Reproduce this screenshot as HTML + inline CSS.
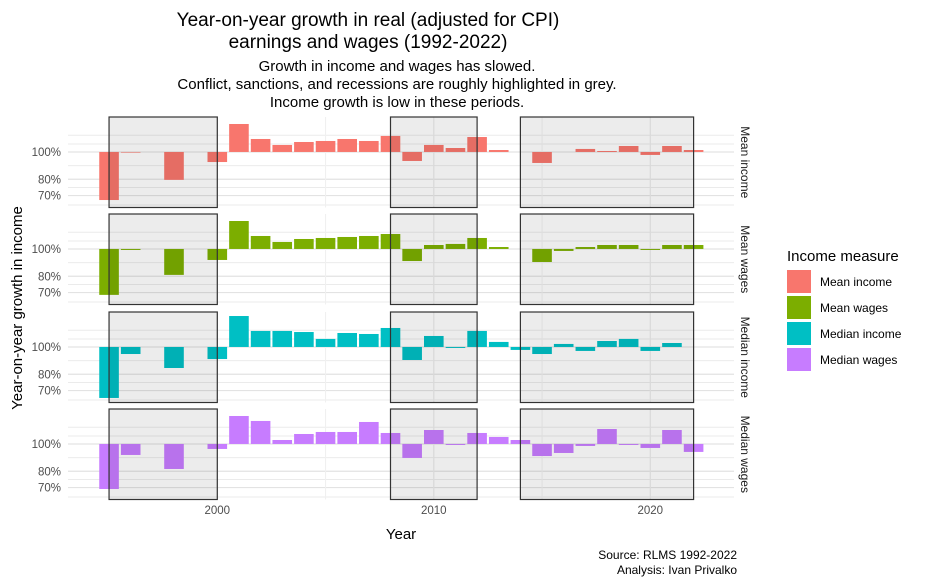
<!DOCTYPE html>
<html><head><meta charset="utf-8"><style>
body{margin:0;background:#fff;}
svg{display:block;font-family:"Liberation Sans",sans-serif;}
</style></head><body>
<svg id="chart" width="925" height="586" viewBox="0 0 925 586">
<text x="368" y="26" font-size="19" text-anchor="middle" fill="#000">Year-on-year growth in real (adjusted for CPI)</text>
<text x="368" y="48" font-size="19" text-anchor="middle" fill="#000">earnings and wages (1992-2022)</text>
<text x="397" y="71" font-size="15" text-anchor="middle">Growth in income and wages has slowed.</text>
<text x="397" y="89" font-size="15" text-anchor="middle">Conflict, sanctions, and recessions are roughly highlighted in grey.</text>
<text x="397" y="107" font-size="15" text-anchor="middle">Income growth is low in these periods.</text>
<g id="panels"></g>
<text x="401" y="539" font-size="15" text-anchor="middle">Year</text>
<text transform="translate(22,308) rotate(-90)" font-size="15" text-anchor="middle">Year-on-year growth in income</text>
<text x="787" y="261" font-size="15">Income measure</text>
<g id="legend"></g>
<text x="737" y="559" font-size="12" text-anchor="end">Source: RLMS 1992-2022</text>
<text x="737" y="574" font-size="12" text-anchor="end">Analysis: Ivan Privalko</text>
</svg>
<script>
const years = [1995,1996,1998,2000,2001,2002,2003,2004,2005,2006,2007,2008,2009,2010,2011,2012,2013,2014,2015,2016,2017,2018,2019,2020,2021,2022];
const seriesNames = ["Mean income","Mean wages","Median income","Median wages"];
const meanIncome = [67.5,99.5,79.6,92.1,125.7,111.2,105.9,108.5,109.4,111.2,109.4,114,92.9,105.9,103.3,113,101.6,100,91.4,100,102.5,100.8,105,97.6,105,101.6];
const meanWages = [68.7,99.2,80.9,91.4,125.7,111.2,105.9,108.5,109.4,110.3,111.2,113,90.6,103.3,104.2,109.4,101.6,100,89.9,98.4,101.6,103.3,103.3,99.2,103.3,103.3];
const medianIncome = [65.9,94.4,84.2,90.6,128.8,114,114,113,106.8,112.1,111.2,116.8,89.9,109.4,99.2,114,104.2,97.6,94.4,102.5,96.8,105,106.8,96.8,103.3,100];
const medianWages = [69.2,91.4,81.5,96,125.7,120.7,103.3,108.5,110.3,110.3,119.7,109.4,89.2,112.1,99.2,109.4,105.9,103.3,90.6,92.9,98.4,113,99.2,96.8,112.1,93.7];
const periodStarts = [1995,2008,2014];
const periodEnds = [2000,2012,2022];
const yTicks = [70,80,100];
const yTickLabels = ["70%","80%","100%"];
const yMinor = [64.8,74.8,89.4,106.7,114.6];
const xTicks = [2000,2010,2020];
const xMinor = [2005,2015];

const allSeries = [meanIncome,meanWages,medianIncome,medianWages];
const colors = ["#F8766D","#7CAE00","#00BFC4","#C77CFF"];
const NS = "http://www.w3.org/2000/svg";
const px0 = 68, px1 = 734;
const panelTop = [117,214,312,409], panelH = 90.5;
const x = yr => 217.3 + (yr - 2000) * 21.65;
const yMax = 133.1, yMin = 63.5;
function y(v, p){ const t = (Math.log(yMax) - Math.log(v)) / (Math.log(yMax) - Math.log(yMin)); return panelTop[p] + t * panelH; }
function mk(tag, attrs, parent){ const e = document.createElementNS(NS, tag); for (const k in attrs) e.setAttribute(k, attrs[k]); parent.appendChild(e); return e; }
const root = document.getElementById("panels");
for (let p = 0; p < 4; p++){
  const g = mk("g", {}, root);
  
  
  yMinor.forEach(v => mk("line", {x1:px0, x2:px1, y1:y(v,p), y2:y(v,p), stroke:"#ebebeb", "stroke-width":1}, g));
  yTicks.forEach(v => mk("line", {x1:px0, x2:px1, y1:y(v,p), y2:y(v,p), stroke:"#e3e3e3", "stroke-width":1.2}, g));
  xMinor.forEach(v => mk("line", {x1:x(v), x2:x(v), y1:panelTop[p], y2:panelTop[p]+panelH, stroke:"#f0f0f0", "stroke-width":1}, g));
  xTicks.forEach(v => mk("line", {x1:x(v), x2:x(v), y1:panelTop[p], y2:panelTop[p]+panelH, stroke:"#ebebeb", "stroke-width":1.2}, g));
  yTicks.forEach((v, i) => {
    const t = mk("text", {x:61, y:y(v,p)+4, "font-size":11.5, fill:"#4d4d4d", "text-anchor":"end"}, g);
    t.textContent = yTickLabels[i];
    
    
  });
  const data = allSeries[p];
  years.forEach((yr, i) => {
    const v = data[i]; const y0 = y(100,p), y1 = y(v,p);
    const h = v === 100 ? 0 : Math.max(Math.abs(y1-y0), 0.6);
    const r = mk("rect", {x:x(yr)-9.8, width:19.6, y:Math.min(y0,y1), height:h, fill:colors[p]}, g);
    
    
  });
  periodStarts.forEach((s, i) => {
    const r = mk("rect", {x:x(s), width:x(periodEnds[i])-x(s), y:panelTop[p], height:panelH, fill:"rgba(0,0,0,0.075)", stroke:"#333", "stroke-width":1.2}, g);
    
    
  });
  const s = mk("text", {transform:`translate(741,${panelTop[p]+panelH/2}) rotate(90)`, "font-size":12, fill:"#1a1a1a", "text-anchor":"middle"}, g);
  s.textContent = seriesNames[p];
  
  
}
xTicks.forEach(v => {
  const t = mk("text", {x:x(v), y:514, "font-size":11.5, fill:"#4d4d4d", "text-anchor":"middle"}, root);
  t.textContent = v;
  
  
});
const lg = document.getElementById("legend");
seriesNames.forEach((n, i) => {
  const gy = 270 + i * 26;
  const k = mk("rect", {x:787, y:gy, width:24, height:23, fill:colors[i]}, lg);
  
  
  const t = mk("text", {x:820, y:gy+16, "font-size":12, fill:"#000"}, lg);
  t.textContent = n;
  
  
});
</script>
</body></html>
